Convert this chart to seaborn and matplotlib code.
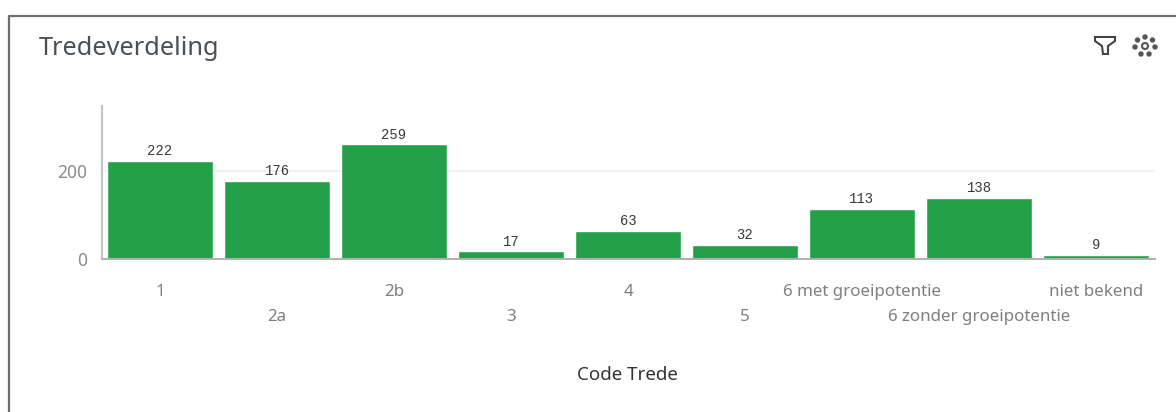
import matplotlib
matplotlib.use("Agg")
import matplotlib.pyplot as plt
from matplotlib.lines import Line2D
from matplotlib.patches import Circle, Polygon
import seaborn as sns
import pandas as pd

categories = ["1", "2a", "2b", "3", "4", "5", "6 met groeipotentie",
              "6 zonder groeipotentie", "niet bekend"]
values = [222, 176, 259, 17, 63, 32, 113, 138, 9]
y_ticks = [0, 200]
title = "Tredeverdeling"
x_title = "Code Trede"
BAR = "#25A04A"
W, H = 1176, 412

sns.set_theme(style="white")
plt.rcParams["font.family"] = ["Noto Sans", "DejaVu Sans"]

fig = plt.figure(figsize=(W / 100, H / 100), dpi=100, facecolor="white")
ax = fig.add_axes([101.5 / W, 1 - 259 / H, 1053 / W, 153 / H])
df = pd.DataFrame({"code": categories, "n": values})
sns.barplot(data=df, x="code", y="n", color=BAR, saturation=1, width=0.9, ax=ax, zorder=3)
ax.set_xlim(-0.5, 8.5)
ax.set_ylim(0, 346)
ax.set_yticks(y_ticks)
ax.set_ylabel("")
ax.set_xlabel("")
ax.grid(axis="y", color="#EFEFEF", lw=1.2, zorder=0)
ax.set_axisbelow(True)
for s in ["top", "right"]:
    ax.spines[s].set_visible(False)
ax.spines["left"].set_color("#C4C4C4")
ax.spines["left"].set_linewidth(1.6)
ax.spines["bottom"].set_color("#B0B0B0")
ax.spines["bottom"].set_linewidth(1.4)
ax.spines["bottom"].set_zorder(5)
ax.tick_params(axis="y", length=0, pad=10, labelsize=12.5, labelcolor="#8A8A8A")
ax.tick_params(axis="x", length=0, labelsize=12.2, labelcolor="#7F7F7F")
for i, t in enumerate(ax.xaxis.get_major_ticks()):
    t.set_pad(36 if i % 2 == 1 else 18)
for c in ax.containers:
    ax.bar_label(c, fmt="%d", padding=2, fontsize=10, color="#3A3A3A",
                 fontfamily="Liberation Mono")

# Panel frame, title, axis title and toolbar icons in pixel space
ov = fig.add_axes([0, 0, 1, 1], facecolor="none")
ov.set_xlim(0, W)
ov.set_ylim(H, 0)
ov.axis("off")
ov.add_line(Line2D([8.5, 8.5, W], [H, 15.5, 15.5], color="#6E6E6E", lw=1.6))
ov.text(39, 48, title, fontsize=18.2, color="#4A4F57", va="center", ha="left")
ov.text(627, 375, x_title, fontsize=13.5, color="#333333", va="center", ha="center")
ov.add_patch(Polygon([(1095, 37), (1115, 37), (1115, 41), (1108, 46), (1108, 54),
                      (1103, 54), (1102, 46), (1095, 41)], closed=True, fill=False,
                     ec="#444444", lw=1.5))
ov.add_patch(Circle((1145, 46), 3, fill=False, ec="#555555", lw=1.5))
for dx, dy in [(0, -9), (7.5, -6), (10, 1), (4, 8), (-4, 8), (-10, 1), (-7.5, -6)]:
    ov.add_patch(Circle((1145 + dx, 46 + dy), 2, color="#555555"))
fig.savefig("out.png", dpi=100)
